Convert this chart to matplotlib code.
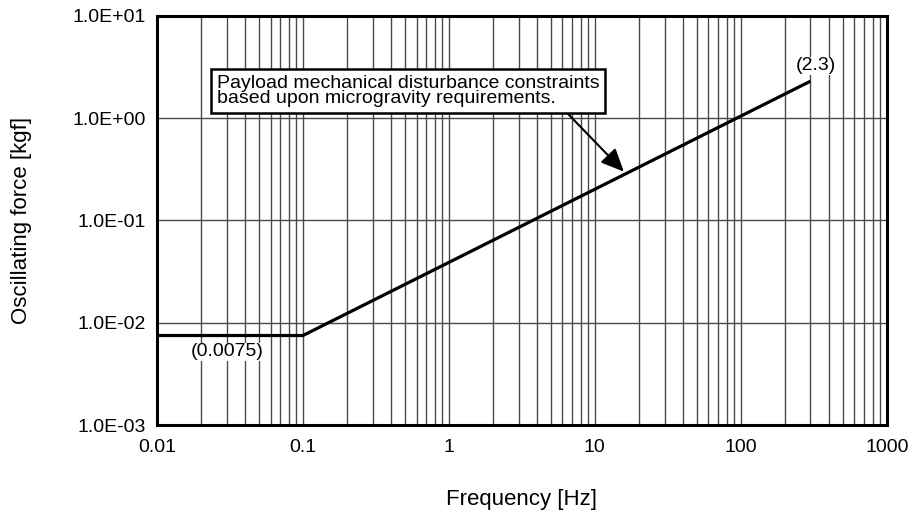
import numpy as np
import matplotlib.pyplot as plt
from matplotlib.ticker import FixedLocator, LogLocator, NullFormatter

plt.rcParams['font.family'] = ['Liberation Sans', 'DejaVu Sans']

# constraint curve
freq = [0.01, 0.1, 300]
force = [0.0075, 0.0075, 2.3]

x_ticks = [0.01, 0.1, 1, 10, 100, 1000]
x_labels = ["0.01", "0.1", "1", "10", "100", "1000"]
y_ticks = [1e-3, 1e-2, 1e-1, 1e0, 1e1]
y_labels = ["1.0E-03", "1.0E-02", "1.0E-01", "1.0E+00", "1.0E+01"]

fig = plt.figure(figsize=(9.18, 5.13), dpi=100)
ax = fig.add_axes([0.171, 0.1715, 0.795, 0.7975])

ax.set_xscale("log")
ax.set_yscale("log")
ax.set_xlim(0.01, 1000)
ax.set_ylim(1e-3, 1e1)

ax.xaxis.set_major_locator(FixedLocator(x_ticks))
ax.xaxis.set_minor_locator(LogLocator(base=10, subs=np.arange(2, 10)))
ax.xaxis.set_minor_formatter(NullFormatter())
ax.set_xticklabels(x_labels)
ax.yaxis.set_major_locator(FixedLocator(y_ticks))
ax.yaxis.set_minor_locator(FixedLocator([]))
ax.set_yticklabels(y_labels)

ax.grid(True, which="major", axis="both", color="#4a4a4a", lw=1.0)
ax.grid(True, which="minor", axis="x", color="#4a4a4a", lw=1.0)
ax.tick_params(which="both", length=0, labelsize=14)
ax.tick_params(axis="x", pad=10)
ax.tick_params(axis="y", pad=8)

for s in ax.spines.values():
    s.set_linewidth(2.2)

ax.plot(freq, force, color="black", lw=2.3, solid_capstyle="butt")

ax.text(0.0301, 0.00518, "(0.0075)", ha="center", va="center", fontsize=14,
        bbox=dict(fc="white", ec="none", pad=0.5))
ax.text(326, 3.24, "(2.3)", ha="center", va="center", fontsize=14,
        bbox=dict(fc="white", ec="none", pad=0.5))

ax.annotate("Payload mechanical disturbance constraints\nbased upon microgravity requirements.",
            xy=(15.8, 0.30), xytext=(217, 422), textcoords="figure pixels",
            ha="left", va="center", fontsize=14, linespacing=0.85,
            bbox=dict(fc="white", ec="black", lw=1.8, boxstyle="square,pad=0.3"),
            arrowprops=dict(arrowstyle="-|>,head_length=1.0,head_width=0.45",
                            color="black", lw=1.5, shrinkA=0, shrinkB=0,
                            relpos=(0.9, 0.0)))

ax.set_xlabel("Frequency [Hz]", fontsize=16, labelpad=24)
ax.set_ylabel("Oscillating force [kgf]", fontsize=16, labelpad=29)

fig.savefig("out.png", dpi=100)
